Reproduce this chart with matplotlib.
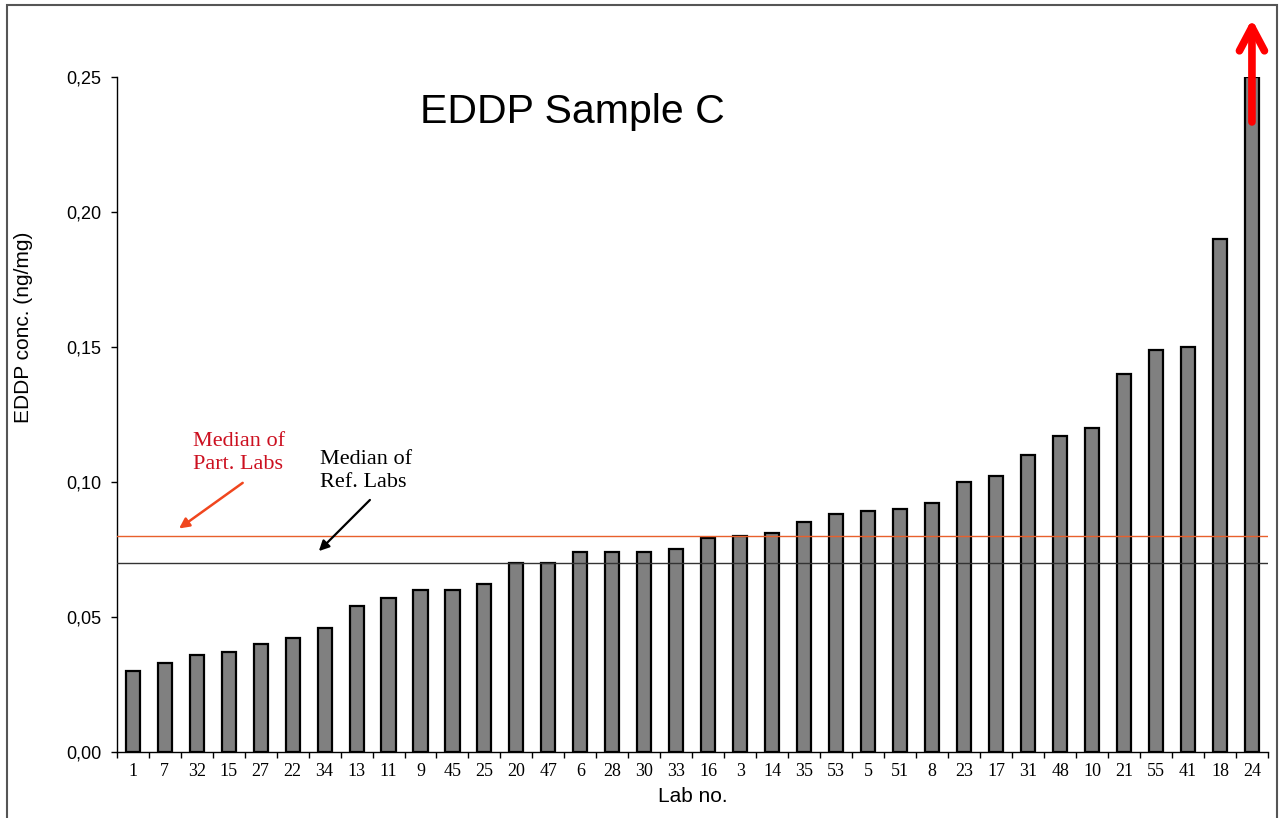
import matplotlib
matplotlib.use("Agg")
import matplotlib.pyplot as plt
from matplotlib.patches import Rectangle
from matplotlib.ticker import FuncFormatter, FixedLocator
import numpy as np

# Lab numbers (sorted by result) and EDDP concentrations (ng/mg)
labs = ["1", "7", "32", "15", "27", "22", "34", "13", "11", "9", "45", "25",
        "20", "47", "6", "28", "30", "33", "16", "3", "14", "35", "53", "5",
        "51", "8", "23", "17", "31", "48", "10", "21", "55", "41", "18", "24"]
conc = [0.030, 0.033, 0.036, 0.037, 0.040, 0.042, 0.046, 0.054, 0.057, 0.060,
        0.060, 0.062, 0.070, 0.070, 0.074, 0.074, 0.074, 0.075, 0.079, 0.080,
        0.081, 0.085, 0.088, 0.089, 0.090, 0.092, 0.100, 0.102, 0.110, 0.117,
        0.120, 0.140, 0.149, 0.150, 0.190, 0.250]  # lab 24 off scale

median_part = 0.080
median_ref = 0.070

serif = ["Liberation Serif", "DejaVu Serif"]
sans = ["Liberation Sans", "DejaVu Sans"]

fig = plt.figure(figsize=(12.81, 8.18), dpi=100)
ax = fig.add_axes([0.0911, 0.0811, 0.8987, 0.8248])

x = np.arange(len(labs))
ax.bar(x, conc, width=0.44, color="#808080", edgecolor="black", linewidth=1.6, zorder=2)

ax.axhline(median_part, color="#e8602c", linewidth=1.0, zorder=3)
ax.axhline(median_ref, color="#333333", linewidth=1.0, zorder=3)

ax.set_xlim(-0.5, len(labs) - 0.5)
ax.set_ylim(0, 0.25)

for s in ["top", "right"]:
    ax.spines[s].set_visible(False)
ax.spines["left"].set_linewidth(1.0)
ax.spines["bottom"].set_linewidth(1.0)

ax.set_yticks([0, 0.05, 0.10, 0.15, 0.20, 0.25])
ax.yaxis.set_major_formatter(FuncFormatter(lambda v, p: f"{v:.2f}".replace(".", ",")))
ax.tick_params(axis="y", direction="out", length=4, width=1, labelsize=13, pad=7)
for lab in ax.get_yticklabels():
    lab.set_family(sans)

ax.set_xticks(x)
ax.set_xticklabels(labs, family=serif, fontsize=13)
ax.tick_params(axis="x", which="major", length=0, pad=8)
ax.xaxis.set_minor_locator(FixedLocator(np.arange(-0.5, len(labs), 1.0)))
ax.tick_params(axis="x", which="minor", direction="out", length=4, width=1)

ax.set_ylabel("EDDP conc. (ng/mg)", family=sans, fontsize=15)
ax.yaxis.set_label_coords(-0.0727, 0.6295)
ax.set_xlabel("Lab no.", family=sans, fontsize=15, labelpad=5)

ax.text(13.76, 0.237, "EDDP Sample C", family=sans, fontsize=29.5,
        ha="center", va="center")

ax.text(1.88, 0.1185, "Median of\nPart. Labs", family=serif, fontsize=16,
        color="#cc1020", ha="left", va="top", linespacing=1.32)
ax.annotate("", xy=(1.38, 0.0821), xytext=(3.51, 0.1002),
            arrowprops=dict(arrowstyle="-|>", color="#f0461e", lw=1.8,
                            mutation_scale=15))

ax.text(5.86, 0.1118, "Median of\nRef. Labs", family=serif, fontsize=16,
        color="black", ha="left", va="top", linespacing=1.32)
ax.annotate("", xy=(5.76, 0.0736), xytext=(7.48, 0.094),
            arrowprops=dict(arrowstyle="-|>", color="black", lw=1.6,
                            mutation_scale=15))

# off-scale marker for lab 24
ax.annotate("", xy=(len(labs) - 1, 0.2725), xytext=(len(labs) - 1, 0.2323),
            annotation_clip=False,
            arrowprops=dict(arrowstyle="->,head_width=0.45,head_length=0.85",
                            color="#ff0000", lw=5.5, mutation_scale=20,
                            capstyle="round", joinstyle="round"))

# frame round the figure
fig.patches.append(Rectangle((7 / 1281, -0.01), 1270 / 1281, 1 - 5 / 818 + 0.01,
                             transform=fig.transFigure, fill=False,
                             edgecolor="#555555", linewidth=1.5))

fig.savefig("out.png", dpi=100)
